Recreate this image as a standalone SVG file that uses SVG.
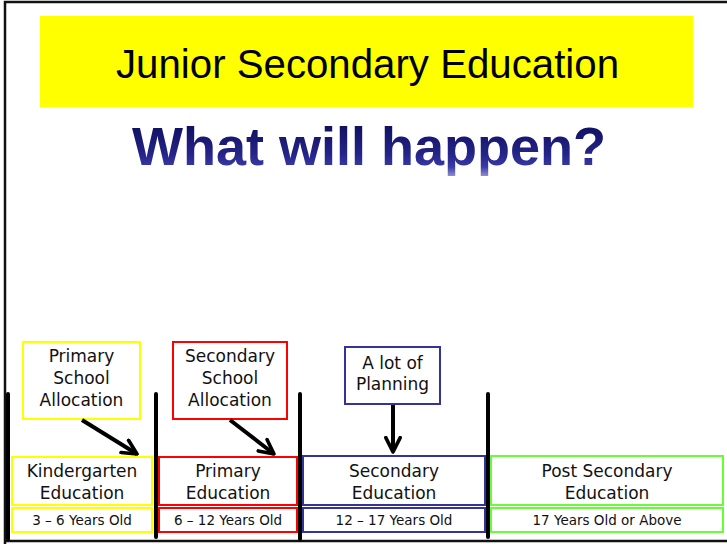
<svg xmlns="http://www.w3.org/2000/svg" width="727" height="544" viewBox="0 0 727 544">
<defs>
<linearGradient id="tg" x1="0" y1="122" x2="0" y2="182" gradientUnits="userSpaceOnUse">
<stop offset="0" stop-color="#0e0e5c"/>
<stop offset="0.55" stop-color="#25258a"/>
<stop offset="0.75" stop-color="#3a3aa8"/>
<stop offset="1" stop-color="#c8c8ee"/>
</linearGradient>
<marker id="ah" viewBox="0 0 10 10" refX="9" refY="5" markerWidth="4.5" markerHeight="4.5" orient="auto" markerUnits="strokeWidth">
<path d="M1,1 L9,5 L1,9" fill="none" stroke="#000" stroke-width="2" stroke-linecap="round" stroke-linejoin="round"/>
</marker>
<style>
.t{font-family:"Comic Sans MS","DejaVu Sans",sans-serif;fill:#111;text-anchor:middle}
.l{font-size:17px}
.s{font-size:13.5px}
.b{fill:#fff;stroke-width:2}
.y{stroke:#ffff00}
.r{stroke:#ff0000}
.u{stroke:#333399}
.g{stroke:#66ff33}
.v{stroke:#000;stroke-width:4;stroke-linecap:round}
.c{stroke:#000;stroke-width:4;fill:none}
</style>
</defs>
<rect x="0" y="0" width="727" height="544" fill="#fff"/>
<path d="M5,544 V2 H727 M5,541 H727" fill="none" stroke="#111" stroke-width="2.5"/>
<g id="banner">
<rect x="40" y="16" width="653" height="91" fill="#ffff00"/>
<text x="367.5" y="78" font-family="Liberation Sans, Arial, sans-serif" font-size="41" fill="#000" text-anchor="middle" textLength="503" lengthAdjust="spacingAndGlyphs">Junior Secondary Education</text>
</g>
<g id="title">
<text x="369" y="165" font-family="Liberation Sans, Arial, sans-serif" font-size="54" font-weight="bold" fill="url(#tg)" text-anchor="middle">What will happen?</text>
</g>
<g id="dividers">
<line class="v" x1="8" y1="394" x2="8" y2="539"/>
<line class="v" x1="156" y1="394" x2="156" y2="537"/>
<line class="v" x1="300" y1="394" x2="300" y2="539"/>
<line class="v" x1="488" y1="394" x2="488" y2="537"/>
</g>
<g id="kindergarten">
<rect class="b y" x="12" y="457" width="140" height="48"/>
<text class="t l" x="82" y="477">Kindergarten</text>
<text class="t l" x="82" y="499">Education</text>
</g>
<g id="kindergarten-age">
<rect class="b y" x="12" y="508" width="140" height="24"/>
<text class="t s" x="82" y="525">3 – 6 Years Old</text>
</g>
<g id="primary">
<rect class="b r" x="159" y="457" width="138" height="48"/>
<text class="t l" x="228" y="477">Primary</text>
<text class="t l" x="228" y="499">Education</text>
</g>
<g id="primary-age">
<rect class="b r" x="159" y="508" width="138" height="24"/>
<text class="t s" x="228" y="525">6 – 12 Years Old</text>
</g>
<g id="secondary">
<rect class="b u" x="303" y="456" width="182" height="49"/>
<text class="t l" x="394" y="477">Secondary</text>
<text class="t l" x="394" y="499">Education</text>
</g>
<g id="secondary-age">
<rect class="b u" x="303" y="508" width="182" height="24"/>
<text class="t s" x="394" y="525">12 – 17 Years Old</text>
</g>
<g id="post-secondary">
<rect class="b g" x="491" y="456" width="232" height="49"/>
<text class="t l" x="607" y="477">Post Secondary</text>
<text class="t l" x="607" y="499">Education</text>
</g>
<g id="post-secondary-age">
<rect class="b g" x="491" y="508" width="232" height="24"/>
<text class="t s" x="607" y="525">17 Years Old or Above</text>
</g>
<g id="primary-allocation">
<rect class="b y" x="23" y="342" width="117" height="77"/>
<text class="t l" x="81.5" y="362">Primary</text>
<text class="t l" x="81.5" y="384">School</text>
<text class="t l" x="81.5" y="406">Allocation</text>
</g>
<g id="secondary-allocation">
<rect class="b r" x="173" y="342" width="114" height="77"/>
<text class="t l" x="230" y="362">Secondary</text>
<text class="t l" x="230" y="384">School</text>
<text class="t l" x="230" y="406">Allocation</text>
</g>
<g id="planning">
<rect class="b u" x="345" y="347" width="95" height="57"/>
<text class="t l" x="392.5" y="369">A lot of</text>
<text class="t l" x="392.5" y="390">Planning</text>
</g>
<g id="connectors">
<line class="c" x1="82" y1="420" x2="137" y2="454" marker-end="url(#ah)"/>
<line class="c" x1="230" y1="420" x2="274" y2="454" marker-end="url(#ah)"/>
<line class="c" x1="393" y1="405" x2="393" y2="452" marker-end="url(#ah)"/>
</g>
</svg>
